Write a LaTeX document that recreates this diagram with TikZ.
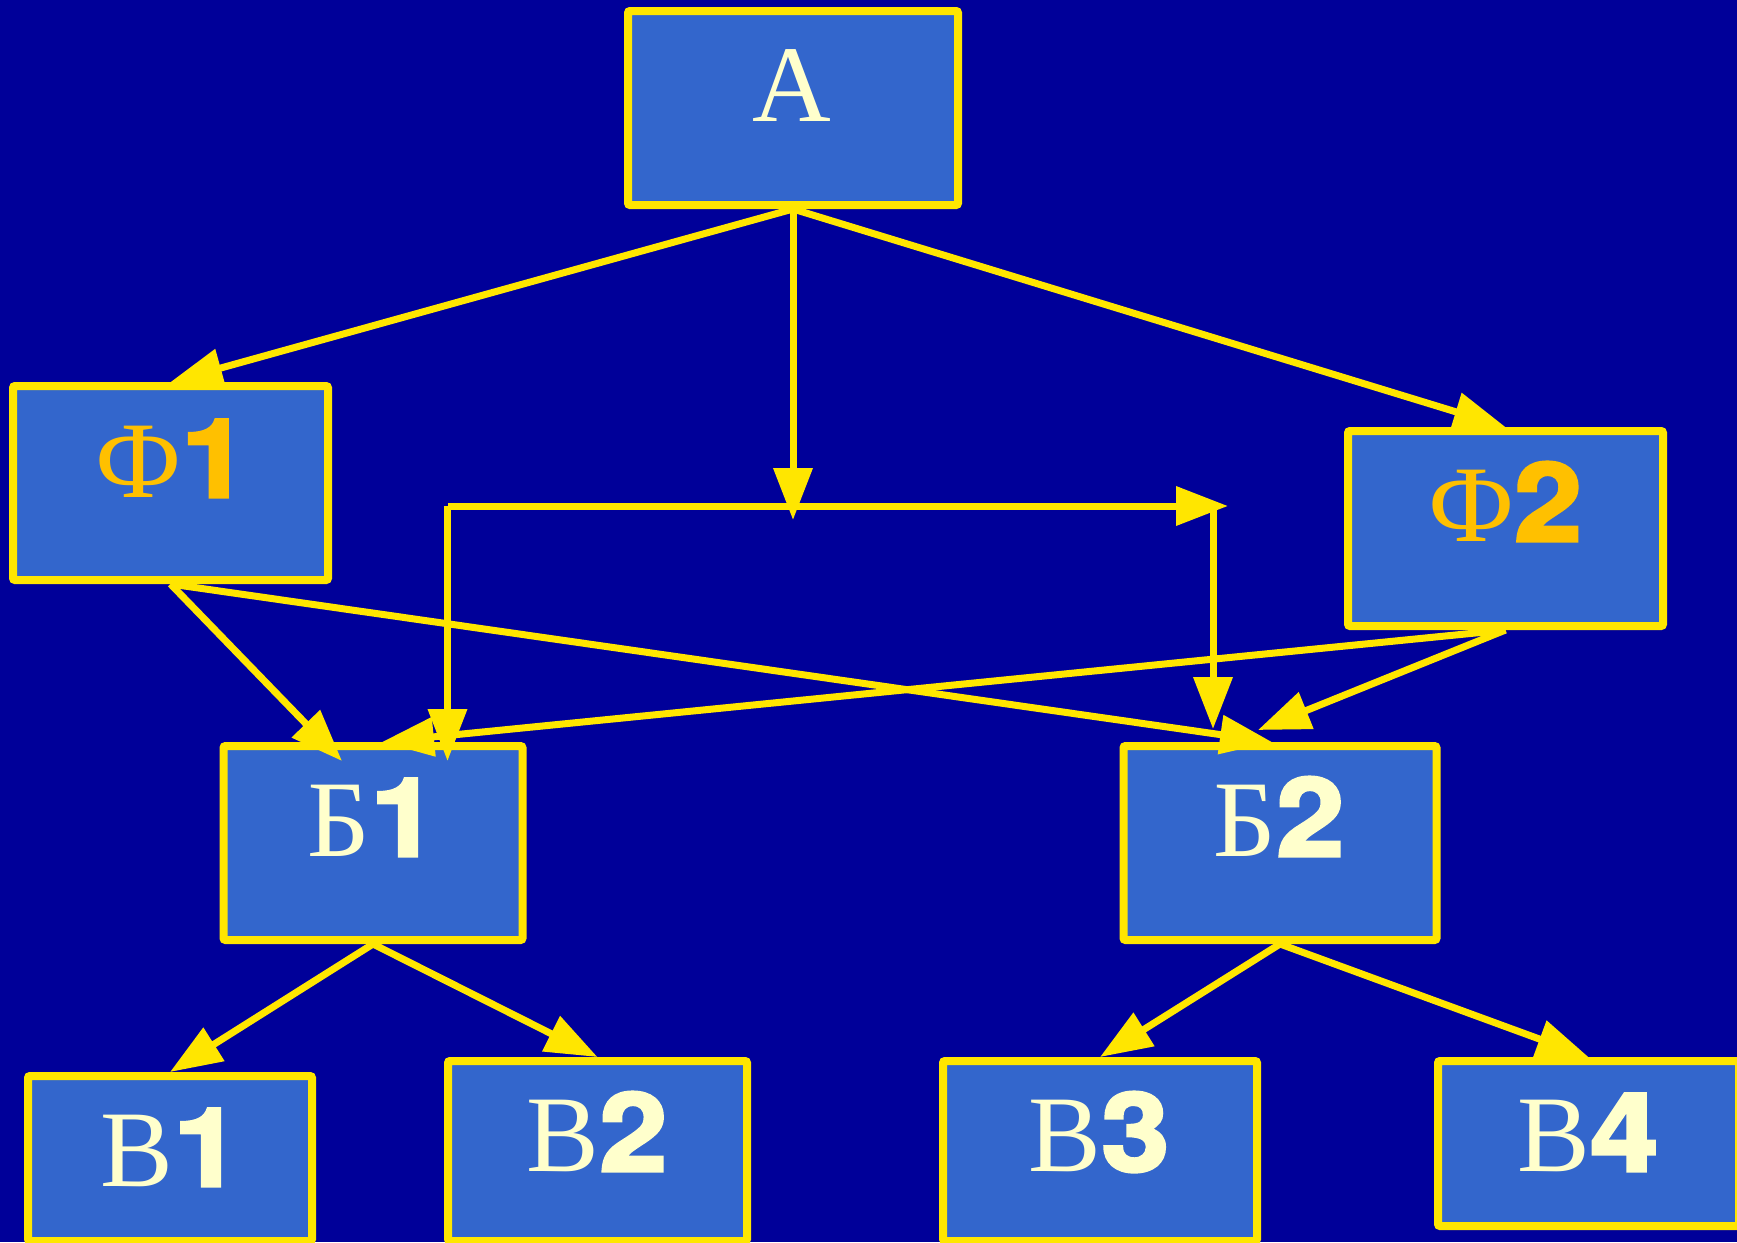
\documentclass[tikz,border=0pt]{standalone}
\usepackage{fontspec}
\setmainfont{Liberation Serif}
\newfontfamily\digitfont{texgyreheros}[Extension=.otf,
  UprightFont=*-regular, BoldFont=*-bold,
  BoldFeatures={FakeBold=3, FakeStretch=1.12}]
\usetikzlibrary{arrows.meta,calc}

\definecolor{bgblue}{HTML}{000099}
\definecolor{boxblue}{HTML}{3366CC}
\definecolor{rim}{HTML}{FFE600}
\definecolor{cream}{HTML}{FFFFCC}
\definecolor{gold}{HTML}{FFC000}

\newcommand\dgt[1]{{\digitfont\bfseries #1}}

\tikzset{
  box/.style={draw=rim, fill=boxblue, line width=8pt, rounded corners=2pt,
    inner sep=0pt, minimum width=#1},
  txt/.style={anchor=base, inner sep=0pt, text=cream,
    font=\fontsize{109}{120}\selectfont},
  phitxt/.style={txt, text=gold},
  link/.style={draw=rim, line width=7pt,
    -{Triangle[length=52pt,width=38pt]}}
}

\begin{document}
\begin{tikzpicture}[x=1pt, y=-1pt]
  \fill[bgblue] (0,0) rectangle (1737,1242);
  \useasboundingbox (0,0) rectangle (1737,1242);

  % boxes
  \node[box=330pt, minimum height=194pt] (A)  at (793,108)     {};
  \node[box=315pt, minimum height=194pt] (F1) at (170.5,483)   {};
  \node[box=315pt, minimum height=195pt] (F2) at (1505.5,528.5) {};
  \node[box=299pt, minimum height=194pt] (B1) at (373,843)     {};
  \node[box=313pt, minimum height=194pt] (B2) at (1280,843)    {};
  \node[box=284pt, minimum height=165pt] (V1) at (170,1158.5)  {};
  \node[box=299pt, minimum height=180pt] (V2) at (597.5,1151)  {};
  \node[box=314pt, minimum height=180pt] (V3) at (1100,1151)   {};
  \node[box=301pt, minimum height=165pt] (V4) at (1588.5,1143.5) {};

  % labels
  \node[txt]    (tA)  at (792,121)   {А};
  \node[phitxt] (tF1) at (172,497)   {Ф\dgt{1}};
  \node[phitxt] (tF2) at (1505,541)  {Ф\dgt{2}};
  \node[txt]    (tB1) at (373,856)   {Б\dgt{1}};
  \node[txt]    (tB2) at (1279,856)  {Б\dgt{2}};
  \node[txt]    (tV1) at (171,1186)  {В\dgt{1}};
  \node[txt]    (tV2) at (597,1171)  {В\dgt{2}};
  \node[txt]    (tV3) at (1099,1171) {В\dgt{3}};
  \node[txt]    (tV4) at (1588,1171) {В\dgt{4}};

  % junction points and arrow tips
  \coordinate (mid)   at (793,520);
  \coordinate (barL)  at (448,506);
  \coordinate (barR)  at (1228,506);
  \coordinate (dropL) at (447.5,506);
  \coordinate (dropR) at (1213,506);
  \coordinate (b1a)   at (342,761);
  \coordinate (b1b)   at (382,742);
  \coordinate (b1c)   at (447.5,761);
  \coordinate (b2a)   at (1272,742);
  \coordinate (b2b)   at (1258,730);
  \coordinate (b2c)   at (1213,729);

  % connectors
  \draw[link] (A.south) -- (F1.north);
  \draw[link] (A.south) -- (F2.north);
  \draw[link] (A.south) -- (mid);
  \draw[link] (barL) -- (barR);
  \draw[link] (dropL) -- (b1c);
  \draw[link] (dropR) -- (b2c);
  \draw[link] (F1.south) -- (b1a);
  \draw[link] (F1.south) -- (b2a);
  \draw[link] (F2.south) -- (b1b);
  \draw[link] (F2.south) -- (b2b);
  \draw[link] (B1.south) -- (V1.north);
  \draw[link] (B1.south) -- (V2.north);
  \draw[link] (B2.south) -- (V3.north);
  \draw[link] (B2.south) -- (V4.north);
\end{tikzpicture}
\end{document}
